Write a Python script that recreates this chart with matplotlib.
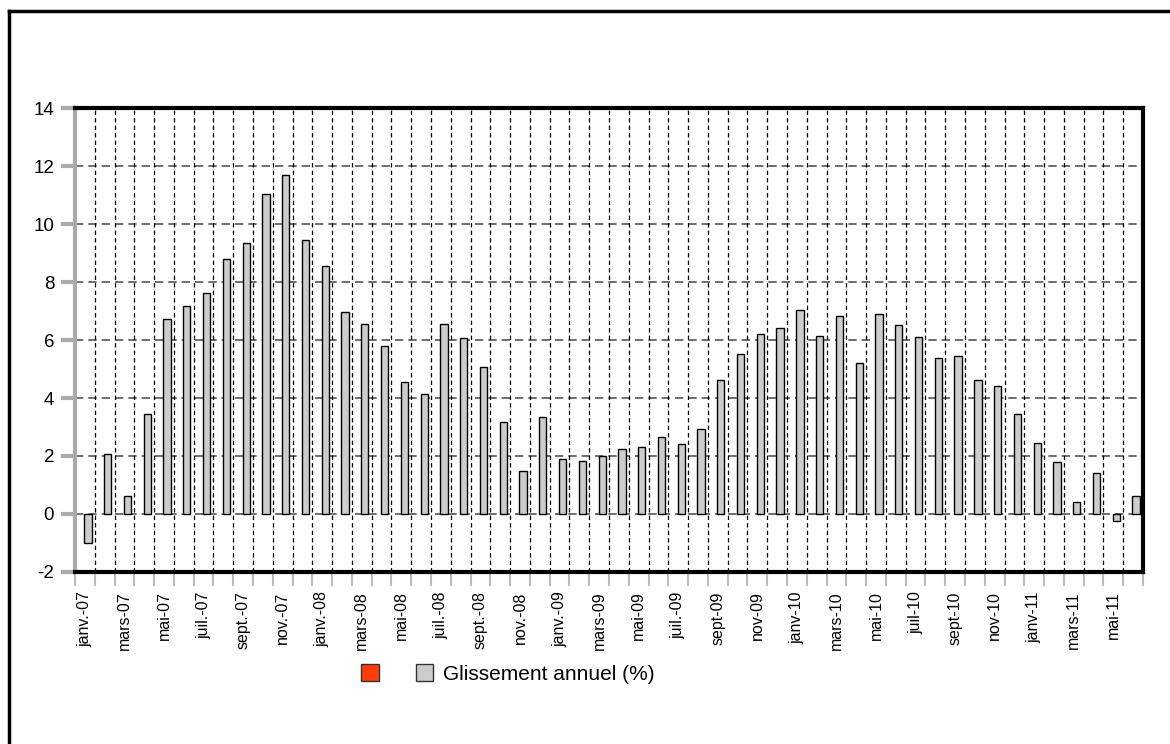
import matplotlib
matplotlib.use('Agg')
import matplotlib.pyplot as plt
from matplotlib.patches import Patch
from matplotlib.lines import Line2D

plt.rcParams['font.family'] = ['Liberation Sans', 'DejaVu Sans']
plt.rcParams['axes.unicode_minus'] = False

# Mois de janv.-07 a juin-11
mois = ['janv.-07', 'févr.-07', 'mars-07', 'avr.-07', 'mai-07', 'juin-07',
        'juil.-07', 'août-07', 'sept.-07', 'oct.-07', 'nov.-07', 'déc.-07',
        'janv.-08', 'févr.-08', 'mars-08', 'avr.-08', 'mai-08', 'juin-08',
        'juil.-08', 'août-08', 'sept.-08', 'oct.-08', 'nov.-08', 'déc.-08',
        'janv.-09', 'févr.-09', 'mars-09', 'avr.-09', 'mai-09', 'juin-09',
        'juil.-09', 'août-09', 'sept-09', 'oct-09', 'nov-09', 'déc-09',
        'janv-10', 'févr-10', 'mars-10', 'avr-10', 'mai-10', 'juin-10',
        'juil-10', 'août-10', 'sept-10', 'oct-10', 'nov-10', 'déc-10',
        'janv-11', 'févr-11', 'mars-11', 'avr-11', 'mai-11', 'juin-11']

glissement = [-1.0, 2.06, 0.61, 3.44, 6.73, 7.17, 7.61, 8.80, 9.33, 11.03,
              11.68, 9.45, 8.54, 6.95, 6.54, 5.78, 4.55, 4.15, 6.54, 6.06,
              5.08, 3.16, 1.47, 3.33, 1.89, 1.82, 2.0, 2.24, 2.30, 2.67,
              2.41, 2.94, 4.61, 5.51, 6.20, 6.40, 7.03, 6.13, 6.82, 5.22,
              6.89, 6.51, 6.11, 5.37, 5.44, 4.61, 4.43, 3.46, 2.44, 1.78,
              0.43, 1.43, -0.23, 0.62]

y_ticks = list(range(-2, 15, 2))

fig = plt.figure(figsize=(11.7, 7.44), dpi=100)
ax = fig.add_axes([0.0641, 0.2312, 0.9128, 0.6236])

n = len(mois)
x = list(range(n))
ax.bar([i + 0.155 for i in x], glissement, width=0.37, color='#cccccc',
       edgecolor='black', linewidth=1, zorder=3)

ax.set_xlim(-0.5, n - 0.5)
ax.set_ylim(-2, 14)
ax.set_yticks(y_ticks)
ax.set_yticklabels([str(v) for v in y_ticks], fontsize=13.5)

# grille horizontale grise
for v in y_ticks[1:-1]:
    ax.axhline(v, color='#555555', linewidth=1.2, dashes=(5, 3), zorder=1)
# grille verticale noire aux limites des mois
for i in range(n - 1):
    ax.axvline(i + 0.5, color='black', linewidth=0.9, dashes=(3.5, 2.5), zorder=1)

# etiquettes un mois sur deux
ax.set_xticks(x[::2])
ax.set_xticklabels(mois[::2], rotation=90, fontsize=11.5)
ax.tick_params(axis='x', which='major', length=0, pad=14)
ax.set_xticks([i - 0.5 for i in range(n + 1)], minor=True)
ax.tick_params(axis='x', which='minor', length=10, width=1.5, color='#bbbbbb')
ax.tick_params(axis='y', length=10, width=3, color='#aaaaaa', pad=5)

for s in ['top', 'right', 'bottom']:
    ax.spines[s].set_linewidth(3)
    ax.spines[s].set_color('black')
ax.spines['left'].set_linewidth(3)
ax.spines['left'].set_color('#aaaaaa')

handles = [Patch(facecolor='#ff3c0a', edgecolor='#333333', linewidth=1),
           Patch(facecolor='#cccccc', edgecolor='#333333', linewidth=1)]
fig.legend(handles, ['', 'Glissement annuel (%)'], loc='center',
           bbox_to_anchor=(0.434, 0.094), ncol=2, frameon=False, fontsize=15,
           handlelength=0.85, handleheight=0.85, columnspacing=1.3,
           handletextpad=0.45)

# cadre exterieur (gauche et haut)
fig.add_artist(Line2D([0.0075, 0.0075], [0.0, 0.985], color='black', linewidth=2.5))
fig.add_artist(Line2D([0.0075, 1.0], [0.985, 0.985], color='black', linewidth=2.5))

fig.savefig('out.png', dpi=100)
